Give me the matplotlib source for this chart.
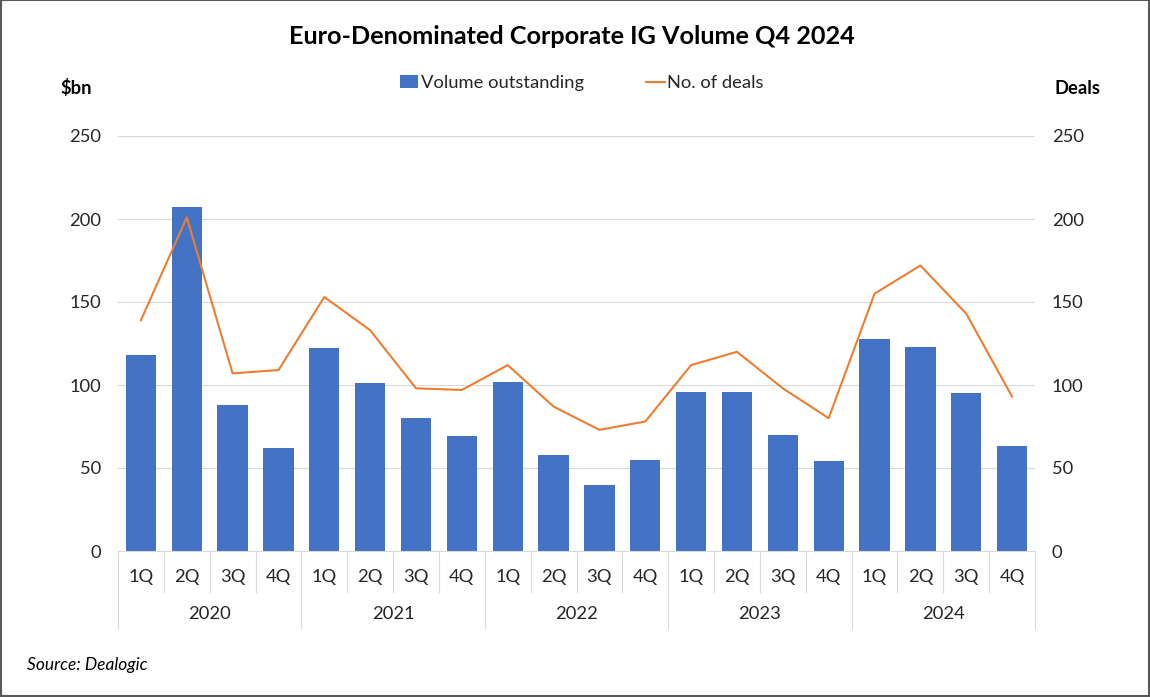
import numpy as np
import matplotlib
matplotlib.use('Agg')
from matplotlib import pyplot as plt
from matplotlib.patches import Rectangle

plt.rcParams['font.family'] = ['Lato', 'DejaVu Sans']

years = ['2020', '2021', '2022', '2023', '2024']
quarters = ['1Q', '2Q', '3Q', '4Q']

# Volume outstanding, $bn
volume = [118, 207, 88, 62,
          122, 101, 80, 69,
          102, 58, 40, 55,
          96, 96, 70, 54,
          128, 123, 95, 63]
# Number of deals
deals = [139, 201, 107, 109,
         153, 133, 98, 97,
         112, 87, 73, 78,
         112, 120, 98, 80,
         155, 172, 143, 93]

BAR_COLOR = '#4472C4'
LINE_COLOR = '#ED7D31'
GRID_COLOR = '#D9D9D9'
TEXT_COLOR = '#262626'
FS = 13.2

W, H = 1150, 697
fig = plt.figure(figsize=(W / 100, H / 100), dpi=100)

# Plot area in pixel terms.
left, right, top, bottom = 118, 1035, 136, 551
ax = fig.add_axes([left / W, 1 - bottom / H, (right - left) / W, (bottom - top) / H])

n = len(volume)
x = np.arange(n)
ax.bar(x, volume, width=0.66, color=BAR_COLOR, zorder=2, label='Volume outstanding')
ax.set_xlim(-0.5, n - 0.5)
ax.set_ylim(0, 250)
ax.set_yticks(np.arange(0, 251, 50))
ax.yaxis.grid(True, color=GRID_COLOR, lw=0.8, zorder=0)
ax.set_axisbelow(True)
for s in ['top', 'right', 'left']:
    ax.spines[s].set_visible(False)
ax.spines['bottom'].set_color(GRID_COLOR)
ax.tick_params(axis='y', length=0, pad=12, labelsize=FS, labelcolor=TEXT_COLOR)

# Quarter labels on the category axis.
ax.set_xticks(x)
ax.set_xticklabels(quarters * len(years))
ax.tick_params(axis='x', length=0, pad=13, labelsize=FS, labelcolor=TEXT_COLOR)

# Year labels and separators.
trans = ax.get_xaxis_transform()
for i in range(n + 1):
    end = -0.186 if i % 4 == 0 else -0.098
    ax.plot([i - 0.5, i - 0.5], [0, end], transform=trans, color=GRID_COLOR,
            lw=0.8, clip_on=False)
for j, yr in enumerate(years):
    ax.text(j * 4 + 1.5, -0.153, yr, transform=trans, ha='center', va='center',
            fontsize=FS, color=TEXT_COLOR)

ax2 = ax.twinx()
ax2.plot(x, deals, color=LINE_COLOR, lw=1.5, label='No. of deals')
ax2.set_ylim(0, 250)
ax2.set_yticks(np.arange(0, 251, 50))
for s in ax2.spines.values():
    s.set_visible(False)
ax2.tick_params(axis='y', length=0, pad=12, labelsize=FS, labelcolor=TEXT_COLOR)

# Legend
h1, l1 = ax.get_legend_handles_labels()
h2, l2 = ax2.get_legend_handles_labels()
fig.legend(h1 + h2, l1 + l2, loc='center', bbox_to_anchor=(0.506, 1 - 83 / H),
           ncol=2, frameon=False, fontsize=FS, handlelength=1.0,
           handletextpad=0.15, columnspacing=3.4, labelcolor=TEXT_COLOR)

fig.text(572 / W, 1 - 36 / H, 'Euro-Denominated Corporate IG Volume Q4 2024',
         ha='center', va='center', fontsize=18.2, fontweight='bold', color='black')
fig.text(76 / W, 1 - 88 / H, '$bn', ha='center', va='center', fontsize=FS,
         fontweight='bold', color='black')
fig.text(1077 / W, 1 - 88 / H, 'Deals', ha='center', va='center', fontsize=FS,
         fontweight='bold', color='black')
fig.text(27 / W, 1 - 665 / H, 'Source: Dealogic', ha='left', va='center',
         fontsize=12.5, style='italic', color='black')

# Outer border.
fig.patches.append(Rectangle((0.0005, 0.0008), 0.999, 0.9985, transform=fig.transFigure,
                             fill=False, edgecolor='#595959', lw=1.5))

fig.savefig('out.png', dpi=100, facecolor='white')
